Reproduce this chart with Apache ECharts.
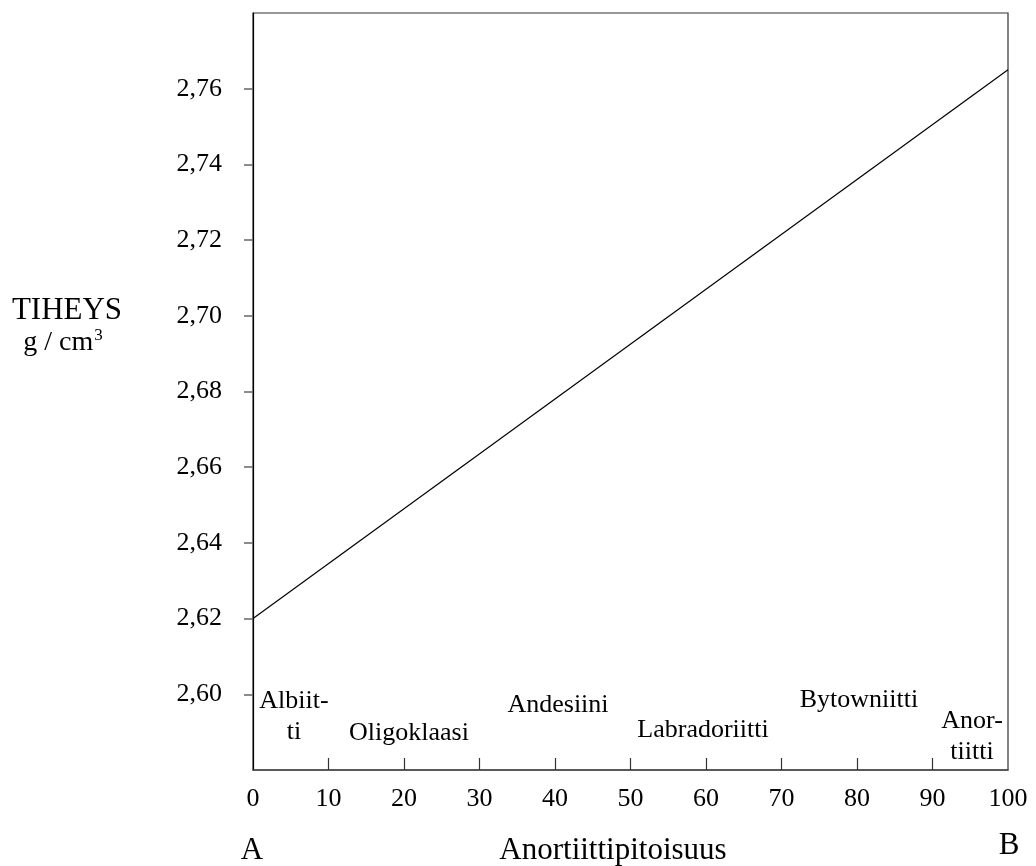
<!DOCTYPE html>
<html>
<head>
<meta charset="utf-8">
<script src="https://cdn.jsdelivr.net/npm/echarts@6/dist/echarts.min.js"></script>
<style>html,body{margin:0;padding:0;background:#fff}#c{width:1036px;height:866px}</style>
</head>
<body>
<div id="c"></div>
<script>
// Data
var anorthitePct = [0, 100];
var density = [2.62, 2.765];
var yTickValues = [2.60, 2.62, 2.64, 2.66, 2.68, 2.70, 2.72, 2.74, 2.76];
var yTickLabels = ['2,60','2,62','2,64','2,66','2,68','2,70','2,72','2,74','2,76'];
var xTickValues = [0, 10, 20, 30, 40, 50, 60, 70, 80, 90, 100];
var xTickLabels = ['0','10','20','30','40','50','60','70','80','90','100'];
var xInnerTicks = [10, 20, 30, 40, 50, 60, 70, 80, 90];
var mineralNames = ['Albiit-\nti', 'Oligoklaasi', 'Andesiini', 'Labradoriitti', 'Bytowniitti', 'Anor-\ntiitti'];
var yAxisTitle = 'TIHEYS';
var yAxisUnit = 'g / cm{sup|3}';
var xAxisTitle = 'Anortiittipitoisuus';
var endLabels = ['A', 'B'];

var FONT = '"Liberation Serif", "DejaVu Serif", serif';
var chart = echarts.init(document.getElementById('c'), null, {renderer: 'canvas'});

var seriesData = anorthitePct.map(function (x, i) { return [x, density[i]]; });

// annotation text placements (pixels)
var mineralPos = [[294, 717, 31], [409, 733, 0], [558, 705, 0], [703, 730, 0], [859, 700, 0], [972, 737, 31]];
var graphics = mineralNames.map(function (n, i) {
  return {
    type: 'text', x: mineralPos[i][0], y: mineralPos[i][1],
    style: { text: n, font: '26px ' + FONT, fill: '#000', align: 'center', verticalAlign: 'middle', lineHeight: mineralPos[i][2] || 28 },
    z: 10
  };
});
graphics.push({ type: 'text', x: 67, y: 311, style: { text: yAxisTitle, font: '31px ' + FONT, fill: '#000', align: 'center', verticalAlign: 'middle' } });
graphics.push({ type: 'text', x: 63, y: 343, style: {
  text: yAxisUnit, font: '28px ' + FONT, fill: '#000', align: 'center', verticalAlign: 'middle',
  rich: { sup: { fontSize: 17, fontFamily: FONT, verticalAlign: 'top', padding: [0, 0, 14, 1], fill: '#000' } }
} });
graphics.push({ type: 'text', x: 613, y: 851, style: { text: xAxisTitle, font: '31px ' + FONT, fill: '#000', align: 'center', verticalAlign: 'middle' } });
graphics.push({ type: 'text', x: 252, y: 851, style: { text: endLabels[0], font: '31px ' + FONT, fill: '#000', align: 'center', verticalAlign: 'middle' } });
graphics.push({ type: 'text', x: 1009, y: 846, style: { text: endLabels[1], font: '31px ' + FONT, fill: '#000', align: 'center', verticalAlign: 'middle' } });

var option = {
  animation: false,
  backgroundColor: '#fff',
  grid: { left: 253, right: 28, top: 13, bottom: 96, show: true, borderColor: '#333', borderWidth: 1.2, containLabel: false },
  xAxis: {
    type: 'value', min: 0, max: 100, interval: 10,
    axisLine: { show: true, lineStyle: { color: '#444', width: 1.5 } },
    axisTick: { show: true, inside: true, length: 12, customValues: xInnerTicks, lineStyle: { color: '#333', width: 1.2 } },
    splitLine: { show: false },
    axisLabel: {
      margin: 16, fontSize: 26, fontFamily: FONT, color: '#000',
      customValues: xTickValues,
      formatter: function (v) { var i = xTickValues.indexOf(Math.round(v)); return xTickLabels[i] || ''; }
    }
  },
  yAxis: {
    type: 'value', min: 2.58, max: 2.78, interval: 0.02,
    axisLine: { show: true, lineStyle: { color: '#000', width: 1.2 } },
    axisTick: { show: true, inside: false, length: 9, customValues: yTickValues, lineStyle: { color: '#666', width: 1.5 } },
    splitLine: { show: false },
    axisLabel: {
      margin: 31, fontSize: 26, fontFamily: FONT, color: '#000',
      customValues: yTickValues,
      formatter: function (v) {
        var best = 0;
        for (var i = 0; i < yTickValues.length; i++) {
          if (Math.abs(yTickValues[i] - v) < Math.abs(yTickValues[best] - v)) best = i;
        }
        return Math.abs(yTickValues[best] - v) < 0.001 ? yTickLabels[best] : '';
      }
    }
  },
  series: [{
    type: 'line', data: seriesData, symbol: 'none', silent: true,
    lineStyle: { color: '#000', width: 1.2 }
  }],
  graphic: graphics
};
chart.setOption(option);
</script>
</body>
</html>
